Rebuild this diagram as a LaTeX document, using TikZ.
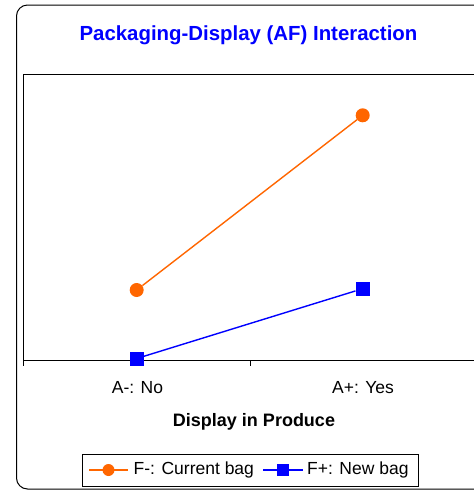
\documentclass[tikz,border=0pt]{standalone}
\usepackage{fontspec}
\setmainfont{Liberation Sans}
\definecolor{orng}{HTML}{FF6600}
\definecolor{blu}{HTML}{0000FF}
\begin{document}
\begin{tikzpicture}[x=1pt,y=-1pt,
  omark/.style={circle,fill=orng,inner sep=0pt,minimum size=14pt},
  bmark/.style={rectangle,fill=blu,inner sep=0pt,minimum size=14pt},
  oline/.style={draw=orng,line width=1.4pt},
  bline/.style={draw=blu,line width=1.4pt},
  lbl/.style={font=\fontsize{17.5}{20}\selectfont,inner sep=0pt},
  ]
\useasboundingbox (0,0) rectangle (474,491);
\clip (0,0) rectangle (474,491);
\fill[white] (0,0) rectangle (474,491);
% outer frame
\draw[line width=1pt,rounded corners=11pt] (16.5,5) rectangle (500,489);
% title
\node[font=\bfseries\fontsize{20.4}{24}\selectfont,text=blu,inner sep=0pt] (title) at (248.5,35) {Packaging-Display (AF) Interaction};
% plot area
\draw[line width=1pt] (23.3,74) rectangle (520,360.7);
\draw[line width=1.5pt] (23.3,360.7) -- (520,360.7);
\draw[line width=1pt] (23.3,360.7) -- (23.3,366) (250.5,360.7) -- (250.5,366);
% axis labels
\node[lbl] (xa) at (137.5,388) {A-: No};
\node[lbl] (xb) at (363,388) {A+: Yes};
\node[lbl,font=\bfseries\fontsize{18}{20}\selectfont] (xt) at (254,421.5) {Display in Produce};
% data
\node[omark] (o1) at (136.7,290) {};
\node[omark] (o2) at (362.7,115.3) {};
\node[bmark] (b1) at (136.7,358.5) {};
\node[bmark] (b2) at (362.7,288.7) {};
\draw[oline] (o1) -- (o2);
\draw[bline] (b1) -- (b2);
% legend
\draw[line width=0.8pt] (82.7,454.3) rectangle (418.3,486);
\coordinate (l1a) at (89,470);
\coordinate (l1b) at (128,470);
\draw[oline] (l1a) -- (l1b);
\node[omark,minimum size=12pt] (lo) at (108.5,470) {};
\node[lbl,anchor=west] (lt1) at (133.5,469.5) {F-: Current bag};
\coordinate (l2a) at (263,470);
\coordinate (l2b) at (303,470);
\draw[bline] (l2a) -- (l2b);
\node[bmark,minimum size=12pt] (lb) at (283,470) {};
\node[lbl,anchor=west] (lt2) at (307,469.5) {F+: New bag};
\end{tikzpicture}
\end{document}
